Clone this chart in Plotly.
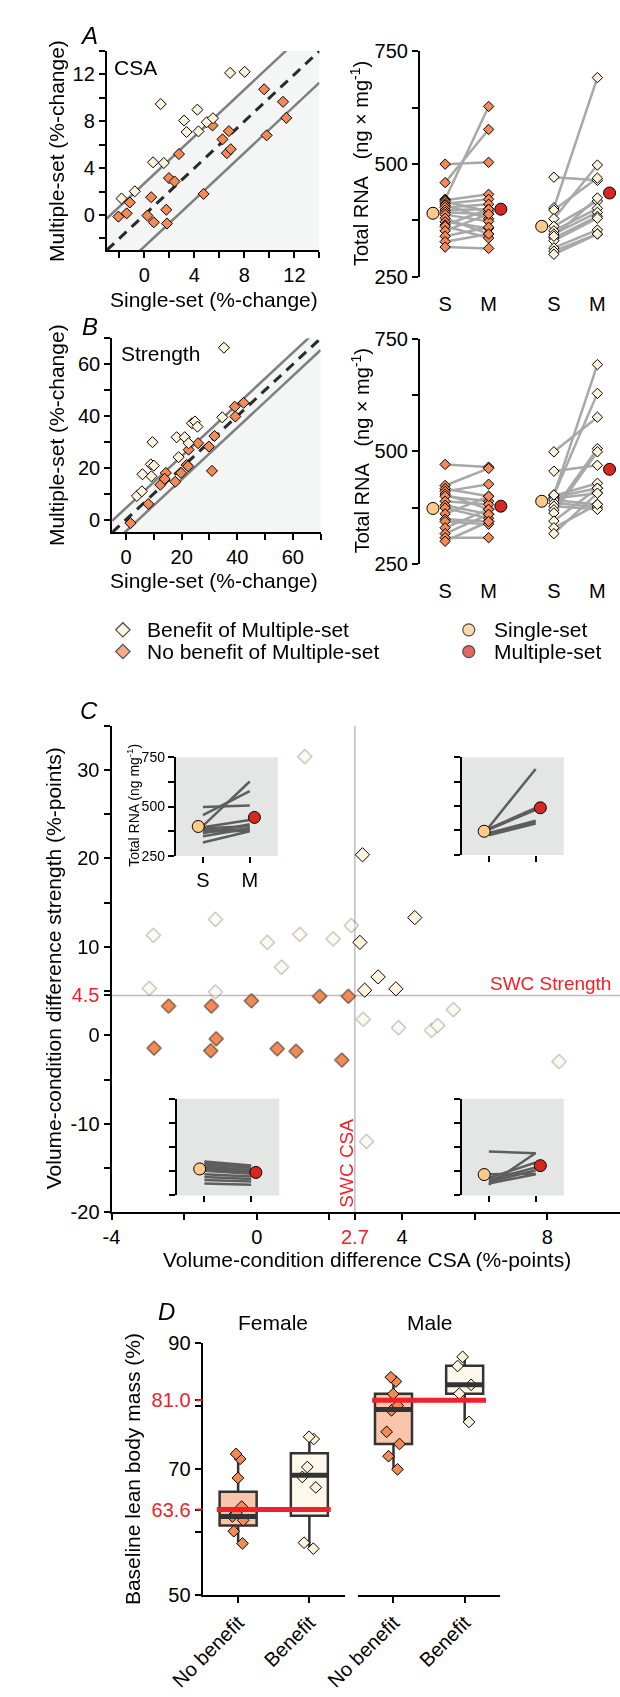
import plotly.graph_objects as go

W, H = 620, 1697
FONT = "Liberation Sans, Arial, Helvetica, sans-serif"
ORANGE = "#f28a55"
LIGHT = "#fdf3dd"
SINGLE_C = "#fdca8a"
MULTI_C = "#d7281f"
RED = "#ee2229"
BG = "#f3f6f5"
INSET_BG = "#e4e6e5"

# ---------------- data ----------------
# Panel A (CSA, % change)
csa_b_single = [-1.82, -0.76, 1.31, 0.70, 1.56, 3.18, 3.38, 4.24, 4.33, 4.99, 5.49, 6.86, 8.02]
csa_b_multi = [1.41, 2.02, 9.47, 4.50, 4.44, 8.06, 7.08, 8.99, 7.14, 7.92, 8.26, 12.13, 12.22]
csa_nb_single = [-2.07, -1.41, -1.16, 0.55, 0.25, 0.76, 1.76, 1.81, 1.97, 2.42, 2.77, 4.74, 5.45,
                 6.25, 6.60, 6.76, 6.91, 9.58, 9.78, 11.09, 11.35]
csa_nb_multi = [-0.14, 0.14, 1.07, 1.52, -0.05, -0.62, 0.45, -0.73, 3.15, 2.86, 5.20, 1.80, 7.64,
                6.46, 5.28, 7.16, 5.62, 10.73, 6.80, 9.66, 8.29]
SWC_CSA = 2.7

# Panel B (strength, % change)
str_b_single = [35.2, 9.5, 5.9, 8.9, 10.0, 9.1, 3.9, 5.7, 18.2, 21.1, 22.5, 18.9, 23.7, 24.8, 25.7, 34.6]
str_b_multi = [66.4, 29.9, 17.5, 21.3, 20.8, 16.7, 9.1, 10.9, 31.8, 31.8, 29.5, 24.1, 37.2, 37.9, 35.9, 39.5]
str_nb_single = [1.6, 8.0, 12.3, 14.3, 13.9, 17.7, 19.8, 21.8, 22.3, 22.5, 25.9, 29.8, 31.8, 30.9, 39.1, 39.3, 42.3]
str_nb_multi = [-1.4, 6.0, 13.4, 18.0, 15.7, 14.6, 18.0, 21.1, 20.6, 27.0, 29.5, 28.2, 32.3, 18.8, 43.6, 39.8, 45.1]
SWC_STR = 4.5

# Total RNA (ng/mg), paired single-set (S) / multiple-set (M)
rnaA_nb_S = [500, 459, 422, 420, 417, 412, 409, 404, 398, 393, 388, 380, 372, 365, 362, 352, 340, 328, 316]
rnaA_nb_M = [504, 577, 628, 433, 395, 422, 379, 411, 400, 389, 373, 345, 358, 400, 336, 389, 360, 345, 313]
rnaA_b_S = [471, 403, 398, 379, 362, 352, 345, 336, 330, 314, 307, 300, 340]
rnaA_b_M = [464, 692, 469, 498, 418, 402, 393, 384, 380, 354, 345, 345, 425]
rnaA_means = [391, 400, 362, 436]   # S, M (no benefit), S, M (benefit)

rnaB_nb_S = [471, 424, 417, 411, 405, 400, 389, 380, 374, 361, 349, 344, 330, 317, 308, 300]
rnaB_nb_M = [465, 462, 400, 427, 371, 389, 382, 360, 351, 400, 344, 338, 371, 360, 308, 344]
rnaB_b_S = [499, 456, 403, 401, 398, 395, 392, 385, 378, 370, 363, 345, 330, 317, 403]
rnaB_b_M = [576, 469, 693, 429, 418, 407, 382, 376, 371, 506, 499, 418, 382, 407, 629]
rnaB_means = [373, 378, 389, 460]

# Panel C: volume-condition differences (%-points) per quadrant
c_ul_csa = [1.32, -2.85, -1.14, 0.29, 1.18, 0.68, -2.96, -1.14, 2.10, 2.60]
c_ul_str = [31.5, 11.3, 13.1, 10.5, 11.4, 7.7, 5.3, 4.9, 10.9, 12.4]
c_ur_csa = [2.91, 4.35, 2.84, 3.34, 2.97, 3.83]
c_ur_str = [20.4, 13.3, 10.5, 6.6, 5.1, 5.25]
c_lr_csa = [2.93, 3.90, 4.81, 4.98, 5.41, 8.32, 3.02]
c_lr_str = [1.8, 0.86, 0.56, 1.1, 2.9, -2.97, -12.0]
c_ll_csa = [-2.43, -1.25, -0.15, 1.73, -2.83, -1.12, -1.27, 0.56, 1.08, 2.52, 2.34]
c_ll_str = [3.3, 3.3, 3.9, 4.4, -1.45, -0.4, -1.75, -1.52, -1.8, 4.4, -2.8]

# Panel C insets: total RNA S / M per quadrant, and group means
ins_ul_S = [498, 457, 402, 395, 390, 380, 372, 365, 350, 318]
ins_ul_M = [505, 578, 627, 432, 400, 385, 378, 410, 390, 375]
ins_ul_mean = [399, 445]
ins_ur_S = [392, 385, 380, 362, 355, 350]
ins_ur_M = [690, 490, 480, 425, 418, 410]
ins_ur_mean = [371, 491]
ins_ll_S = [425, 418, 410, 400, 392, 385, 378, 360, 345, 330, 312]
ins_ll_M = [405, 400, 392, 382, 375, 368, 362, 348, 335, 322, 305]
ins_ll_mean = [387, 369]
ins_lr_S = [477, 305, 340, 330, 320, 312, 360]
ins_lr_M = [468, 469, 420, 395, 380, 360, 362]
ins_lr_mean = [358, 404]

# Panel D: baseline lean body mass (%)
d_fem_nb = [72.45, 71.66, 68.63, 64.08, 63.04, 62.52, 61.89, 60.16, 58.23]
d_fem_b = [74.82, 75.18, 70.37, 68.79, 67.13, 58.34, 57.40]
d_mal_nb = [84.64, 83.96, 81.97, 80.15, 79.37, 75.96, 74.03, 72.09, 70.00]
d_mal_b = [87.88, 86.42, 83.43, 82.03, 77.53]
# box stats: lowerfence, q1, median, q3, upperfence
d_fem_nb_box = [58.3, 61.06, 62.5, 66.44, 72.45]
d_fem_b_box = [57.56, 62.63, 69.05, 72.56, 75.07]
d_mal_nb_box = [70.0, 74.03, 79.5, 82.03, 84.6]
d_mal_b_box = [77.53, 82.03, 83.43, 86.47, 87.88]
d_means = [63.6, 81.0]
d_categories = ["No benefit", "Benefit"]

# ---------------- helpers ----------------
def xd(p0, p1):
    return [p0 / W, p1 / W]


def yd(top, bottom):
    return [1 - bottom / H, 1 - top / H]


def axis(domain, rng, anchor, tickvals=None, ticktext=None, size=20, showline=True,
         ticks="outside", ticklen=6, tickcolor="black", visible=True, **kw):
    d = dict(domain=domain, range=rng, anchor=anchor, showgrid=False, zeroline=False,
             showline=showline, linecolor="black", linewidth=2, ticks=ticks, ticklen=ticklen,
             tickwidth=2, tickcolor=tickcolor, tickfont=dict(size=size, family=FONT, color="black"),
             fixedrange=True, visible=visible)
    if tickvals is not None:
        d["tickmode"] = "array"
        d["tickvals"] = tickvals
        d["ticktext"] = ticktext
    d.update(kw)
    return d


def red(t):
    return '<span style="color:%s">%s</span>' % (RED, t)


annotations = []


def ann(text, px, py, size=21, xanchor="center", yanchor="middle", angle=0, color="black"):
    annotations.append(dict(text=text, x=px / W, y=1 - py / H, xref="paper", yref="paper",
                            showarrow=False, xanchor=xanchor, yanchor=yanchor, textangle=angle,
                            font=dict(size=size, family=FONT, color=color)))


fig = go.Figure()


def diamonds(x, y, color, xa, ya, size=8.5, opacity=1.0):
    fig.add_trace(go.Scatter(x=x, y=y, mode="markers", xaxis=xa, yaxis=ya, showlegend=False,
                             hoverinfo="skip", opacity=opacity,
                             marker=dict(symbol="diamond", size=size, color=color,
                                         line=dict(color="black", width=1))))


# ---------------- Panels A/B scatter ----------------
def scatter_panel(xa, ya, lo, hi, swc, b_s, b_m, nb_s, nb_m):
    fig.add_trace(go.Scatter(x=[lo, lo, hi - swc, hi, hi], y=[lo, lo + swc, hi, hi, lo],
                             fill="toself", fillcolor=BG, mode="lines", line=dict(width=0),
                             xaxis=xa, yaxis=ya, showlegend=False, hoverinfo="skip"))
    for off in (swc, -swc):
        fig.add_trace(go.Scatter(x=[lo, hi], y=[lo + off, hi + off], mode="lines",
                                 line=dict(color="#7f7f7f", width=2.5), xaxis=xa, yaxis=ya,
                                 showlegend=False, hoverinfo="skip"))
    fig.add_trace(go.Scatter(x=[lo, hi], y=[lo, hi], mode="lines",
                             line=dict(color="#2a2a2a", width=3, dash="10px,7px"),
                             xaxis=xa, yaxis=ya, showlegend=False, hoverinfo="skip"))
    diamonds(nb_s, nb_m, ORANGE, xa, ya)
    diamonds(b_s, b_m, LIGHT, xa, ya)


scatter_panel("x", "y", -3, 14, SWC_CSA, csa_b_single, csa_b_multi, csa_nb_single, csa_nb_multi)
scatter_panel("x3", "y3", -5, 70, SWC_STR, str_b_single, str_b_multi, str_nb_single, str_nb_multi)

# ---------------- RNA panels ----------------
POS = [1, 2, 3.5, 4.5]
MOFF = 0.28


def rna_panel(xa, ya, nb_S, nb_M, b_S, b_M, means):
    for (S, M, p0, p1) in ((nb_S, nb_M, POS[0], POS[1]), (b_S, b_M, POS[2], POS[3])):
        lx, ly = [], []
        for s, m in zip(S, M):
            lx += [p0, p1, None]
            ly += [s, m, None]
        fig.add_trace(go.Scatter(x=lx, y=ly, mode="lines", line=dict(color="#a8a8a8", width=2.5),
                                 xaxis=xa, yaxis=ya, showlegend=False, hoverinfo="skip"))
    diamonds([POS[0]] * len(nb_S), nb_S, ORANGE, xa, ya, size=8)
    diamonds([POS[1]] * len(nb_M), nb_M, ORANGE, xa, ya, size=8)
    diamonds([POS[2]] * len(b_S), b_S, LIGHT, xa, ya, size=8)
    diamonds([POS[3]] * len(b_M), b_M, LIGHT, xa, ya, size=8)
    fig.add_trace(go.Scatter(x=[POS[0] - MOFF, POS[1] + MOFF, POS[2] - MOFF, POS[3] + MOFF], y=means,
                             mode="markers", xaxis=xa, yaxis=ya, showlegend=False, hoverinfo="skip",
                             marker=dict(symbol="circle", size=12,
                                         color=[SINGLE_C, MULTI_C, SINGLE_C, MULTI_C],
                                         line=dict(color="black", width=1))))


rna_panel("x2", "y2", rnaA_nb_S, rnaA_nb_M, rnaA_b_S, rnaA_b_M, rnaA_means)
rna_panel("x4", "y4", rnaB_nb_S, rnaB_nb_M, rnaB_b_S, rnaB_b_M, rnaB_means)

# ---------------- Panel C ----------------
diamonds(c_ul_csa, c_ul_str, LIGHT, "x5", "y5", size=11, opacity=0.45)
diamonds(c_lr_csa, c_lr_str, LIGHT, "x5", "y5", size=11, opacity=0.45)
diamonds(c_ll_csa, c_ll_str, ORANGE, "x5", "y5", size=11)
diamonds(c_ur_csa, c_ur_str, LIGHT, "x5", "y5", size=11)

shapes = []
shapes.append(dict(type="line", xref="x5", yref="y5", x0=SWC_CSA, x1=SWC_CSA, y0=-20, y1=35,
                   line=dict(color="#bdbdbd", width=1.5), layer="below"))
shapes.append(dict(type="line", xref="x5", yref="y5", x0=-4, x1=10, y0=SWC_STR, y1=SWC_STR,
                   line=dict(color="#bdbdbd", width=1.5), layer="below"))


def inset(n, S, M, mean):
    xa, ya = "x%d" % n, "y%d" % n
    shapes.append(dict(type="rect", xref=xa + " domain", yref=ya + " domain", x0=0, x1=1, y0=0, y1=1,
                       fillcolor=INSET_BG, line=dict(width=0), layer="below"))
    lx, ly = [], []
    for s, m in zip(S, M):
        lx += [0, 1, None]
        ly += [s, m, None]
    fig.add_trace(go.Scatter(x=lx, y=ly, mode="lines", line=dict(color="#4f4f4f", width=2.5),
                             opacity=0.9, xaxis=xa, yaxis=ya, showlegend=False, hoverinfo="skip"))
    fig.add_trace(go.Scatter(x=[-0.1, 1.1], y=mean, mode="markers", xaxis=xa, yaxis=ya,
                             showlegend=False, hoverinfo="skip",
                             marker=dict(size=12, color=[SINGLE_C, MULTI_C],
                                         line=dict(color="black", width=1))))


inset(6, ins_ul_S, ins_ul_M, ins_ul_mean)
inset(7, ins_ur_S, ins_ur_M, ins_ur_mean)
inset(8, ins_ll_S, ins_ll_M, ins_ll_mean)
inset(9, ins_lr_S, ins_lr_M, ins_lr_mean)

# ---------------- Panel D ----------------
BOXW = 0.52


def dbox(xa, ya, pos, stats, fill):
    lf, q1, med, q3, uf = stats
    fig.add_trace(go.Box(x=[pos], lowerfence=[lf], q1=[q1], median=[med], q3=[q3], upperfence=[uf],
                         width=BOXW, whiskerwidth=0, fillcolor=fill,
                         line=dict(color="#333333", width=2.5), xaxis=xa, yaxis=ya,
                         showlegend=False, hoverinfo="skip"))
    fig.add_trace(go.Scatter(x=[pos - BOXW / 2, pos + BOXW / 2], y=[med, med], mode="lines",
                             line=dict(color="#333333", width=5), xaxis=xa, yaxis=ya,
                             showlegend=False, hoverinfo="skip"))


def dpoints(xa, ya, pos, pts, pcolor):
    fig.add_trace(go.Box(x=[pos] * len(pts), y=pts, boxpoints="all", jitter=0.45, pointpos=0,
                         width=BOXW, fillcolor="rgba(0,0,0,0)", line=dict(color="rgba(0,0,0,0)", width=0),
                         marker=dict(symbol="diamond", size=9, color=pcolor,
                                     line=dict(color="black", width=1)),
                         xaxis=xa, yaxis=ya, showlegend=False, hoverinfo="skip"))


dbox("x10", "y10", 0, d_fem_nb_box, "#f9c5ab")
dbox("x10", "y10", 1, d_fem_b_box, "#fdf8ec")
dbox("x11", "y11", 0, d_mal_nb_box, "#f9c5ab")
dbox("x11", "y11", 1, d_mal_b_box, "#fdf8ec")
for xa, ya, m in (("x10", "y10", d_means[0]), ("x11", "y11", d_means[1])):
    fig.add_trace(go.Scatter(x=[-0.3, 1.3], y=[m, m], mode="lines", line=dict(color=RED, width=5),
                             xaxis=xa, yaxis=ya, showlegend=False, hoverinfo="skip"))
dpoints("x10", "y10", 0, d_fem_nb, ORANGE)
dpoints("x10", "y10", 1, d_fem_b, LIGHT)
dpoints("x11", "y11", 0, d_mal_nb, ORANGE)
dpoints("x11", "y11", 1, d_mal_b, LIGHT)
for m in d_means:
    shapes.append(dict(type="line", xref="x10 domain", yref="y10", x0=-0.045, x1=0, y0=m, y1=m,
                       line=dict(color=RED, width=2), layer="above"))

# ---------------- legend (manual keys) ----------------
fig.add_trace(go.Scatter(x=[94, 94, 460, 460], y=[627, 649, 627, 649], mode="markers",
                         xaxis="x12", yaxis="y12", showlegend=False, hoverinfo="skip",
                         marker=dict(symbol=["diamond", "diamond", "circle", "circle"],
                                     size=[11, 11, 12, 12],
                                     color=[LIGHT, ORANGE, SINGLE_C, MULTI_C],
                                     line=dict(color="black", width=1.2))))
ann("Benefit of Multiple-set", 117, 627, 21, xanchor="left")
ann("No benefit of Multiple-set", 117, 649, 21, xanchor="left")
ann("Single-set", 485, 627, 21, xanchor="left")
ann("Multiple-set", 485, 649, 21, xanchor="left")

# ---------------- text ----------------
RNA_T = "Total RNA\u00a0\u00a0\u00a0(ng\u00a0\u00d7\u00a0mg<sup>-1</sup>)"
ann("<i>A</i>", 58, 25, 24)
ann("CSA", 83, 57, 21, xanchor="left")
ann("Multiple-set (%-change)", 23, 142, 21, angle=-90)
ann("Single-set (%-change)", 190, 292, 21)
ann(RNA_T, 345, 155, 20, angle=-90)
ann("<i>B</i>", 59, 320, 24)
ann("Strength", 90, 347, 21, xanchor="left")
ann("Multiple-set (%-change)", 24, 430, 21, angle=-90)
ann("Single-set (%-change)", 190, 577, 21)
ann(RNA_T, 345, 446, 20, angle=-90)
ann("<i>C</i>", 58, 709, 24)
ann("Volume-condition difference strength (%-points)", 21, 970, 21, angle=-90)
ann("Volume-condition difference CSA (%-points)", 352, 1265, 21)
ann("SWC Strength", 613, 985, 19, xanchor="right", color=RED)
ann("SWC CSA", 331, 1167, 19, angle=-90, color=RED)
ann("Total RNA (ng mg<sup>-1</sup>)", 104, 805, 14, angle=-90)
ann("<i>D</i>", 140, 1318, 24)
ann("Female", 253, 1329, 21)
ann("Male", 419, 1329, 21)
ann("Baseline lean body mass (%)", 105, 1477, 21, angle=-90)

# ---------------- axes ----------------
ev2 = lambda lo, hi, st: list(range(lo, hi + 1, st))
L = {}
L["xaxis"] = axis(xd(77, 302), [-3, 14], "y", ev2(-2, 14, 2), ["", "0", "", "4", "", "8", "", "12", ""])
L["yaxis"] = axis(yd(40.5, 242.3), [-3, 14], "x", ev2(-2, 14, 2), ["", "0", "", "4", "", "8", "", "12", ""])
L["xaxis3"] = axis(xd(82.7, 303.3), [-5, 70], "y3", ev2(0, 70, 10), ["0", "", "20", "", "40", "", "60", ""])
L["yaxis3"] = axis(yd(331.7, 528.3), [-5, 70], "x3", ev2(0, 70, 10), ["0", "", "20", "", "40", "", "60", ""])
for xn, yn, top, bot in (("xaxis2", "yaxis2", 41, 269.3), ("xaxis4", "yaxis4", 332.3, 560)):
    L[xn] = axis(xd(408.3, 620), [0.42, 5.02], yn.replace("axis", ""), POS, ["S", "M", "S", "M"],
                 showline=False, ticklen=9, tickcolor="rgba(0,0,0,0)")
    L[yn] = axis(yd(top, bot), [250, 750], xn.replace("axis", ""), [250, 375, 500, 625, 750],
                 ["250", "", "500", "", "750"])
L["xaxis5"] = axis(xd(82, 620), [-4, 10], "y5", [-4, -2, 0, 2, SWC_CSA, 4, 6, 8],
                   ["-4", "", "0", "", red("2.7"), "4", "", "8"])
L["yaxis5"] = axis(yd(724, 1217), [-20, 35], "x5",
                   [-20, -15, -10, -5, 0, SWC_STR, 5, 10, 15, 20, 25, 30, 35],
                   ["-20", "", "-10", "", "0", red("4.5"), "", "10", "", "20", "", "30", ""])
inset_geo = {6: (150, 258, 756, 856), 7: (452.5, 560.5, 756, 855),
             8: (151.5, 259.5, 1102, 1200), 9: (452.5, 560.5, 1102, 1200)}
for n, (x0, x1, y0, y1) in inset_geo.items():
    lab = (n == 6)
    L["xaxis%d" % n] = axis(xd(x0, x1), [-0.58, 1.6], "y%d" % n, [0, 1], ["S", "M"], showline=False,
                            showticklabels=lab)
    L["yaxis%d" % n] = axis(yd(y0, y1), [250, 750], "x%d" % n, [250, 375, 500, 625, 750],
                            ["250", "", "500", "", "750"], size=14, showticklabels=lab)
L["xaxis10"] = axis(xd(178.3, 329), [-0.5, 1.5], "y10", [0, 1], d_categories, tickangle=-45)
L["yaxis10"] = axis(yd(1350, 1605), [50, 90], "x10", [50, 60, d_means[0], 70, 80, d_means[1], 90],
                    ["50", "", red("63.6"), "70", "", red("81.0"), "90"])
L["xaxis11"] = axis(xd(342.7, 493.3), [-0.5, 1.5], "y11", [0, 1], d_categories, tickangle=-45)
L["yaxis11"] = axis(yd(1350, 1605), [50, 90], "x11", visible=False)
L["xaxis12"] = axis([0, 1], [0, W], "y12", visible=False)
L["yaxis12"] = axis([0, 1], [H, 0], "x12", visible=False)

fig.update_layout(**L)
fig.update_layout(width=W, height=H, margin=dict(l=0, r=0, t=0, b=0, pad=0),
                  paper_bgcolor="white", plot_bgcolor="rgba(0,0,0,0)",
                  boxmode="overlay", showlegend=False, shapes=shapes, annotations=annotations,
                  font=dict(family=FONT, size=20, color="black"))

fig.write_html("out.html", config={"displayModeBar": False, "staticPlot": True},
               post_script="document.body.style.margin='0';document.body.style.overflow='hidden';")
